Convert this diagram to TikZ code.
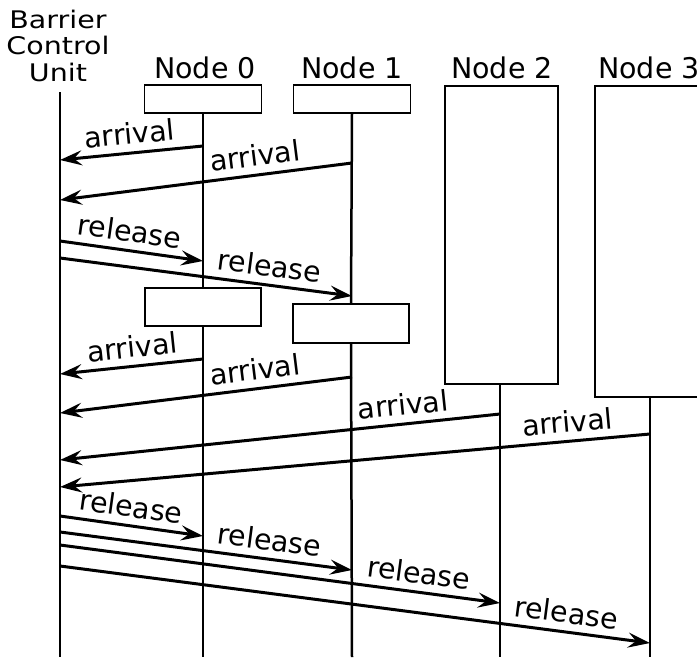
\documentclass[tikz,border=0pt]{standalone}
\usepackage{fontspec}
\setmainfont{DejaVu Sans}
\usepackage{graphicx}
\usetikzlibrary{arrows.meta}
\tikzset{box/.style={draw,fill=white,line width=1.8pt,inner sep=0pt}}
\tikzset{life/.style={line width=2.5pt}}
\tikzset{msg/.style={line width=3pt}}
\tikzset{lbl/.style={above,sloped,inner sep=7pt}}

\begin{document}
\begin{tikzpicture}[x=1pt,y=-1pt,>={Stealth[length=22pt,width=15pt,inset=8pt]},font=\fontsize{28.5}{32.5}\selectfont]
        \useasboundingbox (0,0) rectangle (697,657);
        \clip (0,0) rectangle (697,657);

        % heads
        \node[anchor=base] (bcu) at (58,81) {\scalebox{1}[0.85]{\begin{tabular}[b]{@{}c@{}}Barrier\\[-1.5pt]Control\\[-1.5pt]Unit\end{tabular}}};
        \node[anchor=base] (n0) at (205,78) {Node 0};
        \node[anchor=base] (n1) at (352,78) {Node 1};
        \node[anchor=base] (n2) at (502,78) {Node 2};
        \node[anchor=base] (n3) at (649,78) {Node 3};

        % boxes
        \node[box,minimum width=117pt,minimum height=28pt] (b0) at (203,99) {};
        \node[box,minimum width=117pt,minimum height=28pt] (b1) at (352,99) {};
        \node[box,minimum width=113pt,minimum height=298pt] (b2) at (501.5,235) {};
        \node[box,minimum width=113pt,minimum height=311pt] (b3) at (651.5,241.5) {};
        \node[box,minimum width=116pt,minimum height=38pt] (c0) at (203,307) {};
        \node[box,minimum width=116pt,minimum height=39pt] (c1) at (351,323.5) {};

        % lifelines
        \coordinate (u0) at (60,92);
        \coordinate (u1) at (60,657);
        \coordinate (d0) at (203,657);
        \coordinate (d1) at (352,657);
        \coordinate (d2) at (500,657);
        \coordinate (d3) at (650,657);
        \draw[life] (u0) -- (u1);
        \draw[life] (b0.south) -- (c0.north);
        \draw[life] (c0.south) -- (d0);
        \draw[life] (b1.south) -- (c1.north);
        \draw[life] (c1.south) -- (d1);
        \draw[life] (b2.south -| d2) -- (d2);
        \draw[life] (b3.south -| d3) -- (d3);

        % message ends
        \coordinate (p1) at (203,146);  \coordinate (q1) at (60,160);
        \coordinate (p2) at (352,163);  \coordinate (q2) at (60,200);
        \coordinate (q3) at (60,241);   \coordinate (p3) at (203,261);
        \coordinate (q4) at (60,258);   \coordinate (p4) at (352,296);
        \coordinate (p5) at (203,359);  \coordinate (q5) at (60,374);
        \coordinate (p6) at (352,377);  \coordinate (q6) at (60,413);
        \coordinate (p7) at (500,414);  \coordinate (q7) at (60,460);
        \coordinate (p8) at (650,434);  \coordinate (q8) at (60,487);
        \coordinate (q9) at (60,516);   \coordinate (p9) at (203,536);
        \coordinate (q10) at (60,532);  \coordinate (p10) at (352,570);
        \coordinate (q11) at (60,545);  \coordinate (p11) at (500,603);
        \coordinate (q12) at (60,566);  \coordinate (p12) at (650,643);

        % first round
        \draw [msg,->] (p1) to node[lbl,pos=0.5]{arrival} (q1);
        \draw [msg,->] (p2) to node[lbl,pos=0.325]{arrival} (q2);
        \draw [msg,->] (q3) to node[lbl,pos=0.47]{release} (p3);
        \draw [msg,->] (q4) to node[lbl,pos=0.71]{release} (p4);

        % second round
        \draw [msg,->] (p5) to node[lbl,pos=0.48]{arrival} (q5);
        \draw [msg,->] (p6) to node[lbl,pos=0.325]{arrival} (q6);
        \draw [msg,->] (p7) to node[lbl,pos=0.216]{arrival} (q7);
        \draw [msg,->] (p8) to node[lbl,pos=0.137]{arrival} (q8);
        \draw [msg,->] (q9) to node[lbl,pos=0.48]{release} (p9);
        \draw [msg,->] (q10) to node[lbl,pos=0.71]{release} (p10);
        \draw [msg,->] (q11) to node[lbl,pos=0.81]{release} (p11);
        \draw [msg,->] (q12) to node[lbl,pos=0.854]{release} (p12);
    \end{tikzpicture}
\end{document}
